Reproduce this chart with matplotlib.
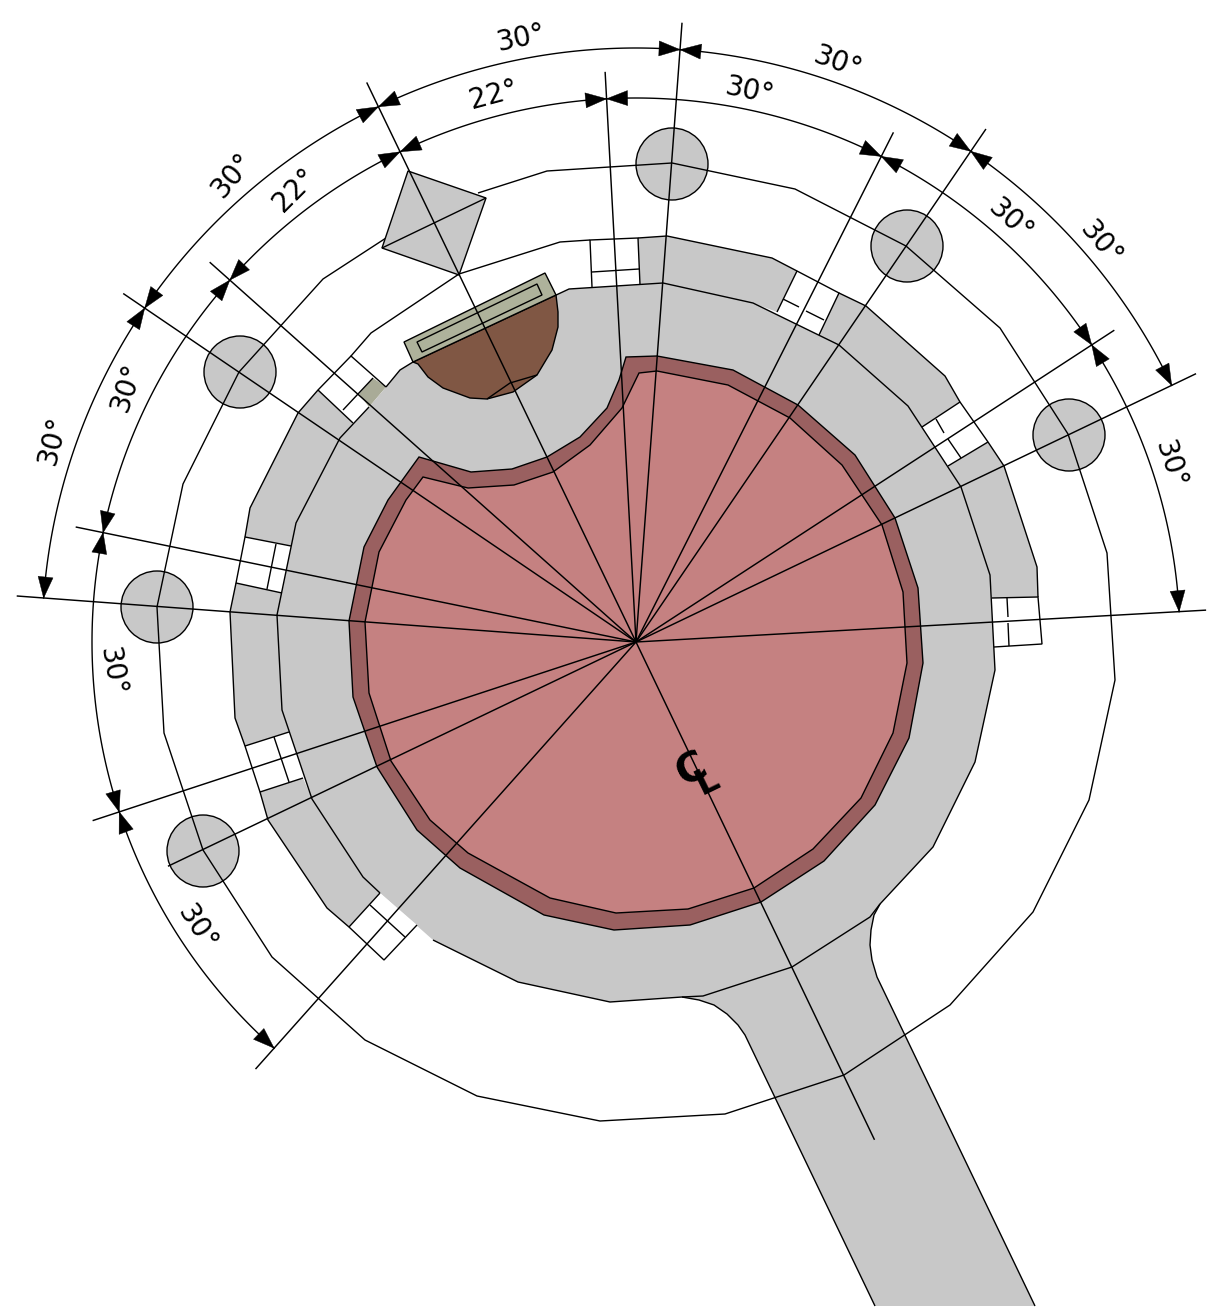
import numpy as np
import matplotlib
matplotlib.use("Agg")
import matplotlib.pyplot as plt
from matplotlib.patches import Polygon, Circle

GRAY = '#c8c8c8'
PINK = '#c58181'
DARK = '#9a6060'
OLIVE = '#aeb29b'
OLIVE_DK = '#a9ab97'
BROWN = '#805744'
LW = 1.0

centre = (636, 642)

body_fill = [(569,289),(663,283),(753,303),(839,345),(908,406),(961,487),(990,575),(995,670),(975,762),
             (933,847),(880,904),(874,915),(871,930),(870,945),(872,960),(877,977),(1035,1306),(875,1306),
             (745,1035),(738,1025),(727,1014),(714,1005),(699,1000),(682,997),(610,1002),(518,982),(433,940),
             (380,893),(363,877),(312,799),(282,710),(277,615),(296,523),(340,438),(369,407),(386,387),(400,370),(413,362)]
body_outline_a = [(433,940),(518,982),(610,1002),(682,997),(703,996),(792,967),(870,917),(880,904),(933,847),
                  (975,762),(995,670),(990,575),(961,487),(908,406),(839,345),(753,303),(663,283),(569,289),
                  (413,362),(400,370),(386,387)]
body_outline_b = [(369,407),(340,438),(296,523),(277,615),(282,710),(312,799),(363,877),(380,893)]
stem_left = [(875,1306),(745,1035),(738,1025),(727,1014),(714,1005),(699,1000),(682,997)]
stem_right = [(880,904),(874,915),(871,930),(870,945),(872,960),(877,977),(1035,1306)]

red_outer = [(626,357),(657,356),(733,370),(798,405),(855,455),(895,518),(918,588),(923,663),(909,738),(875,805),
             (824,861),(761,902),(690,925),(614,930),(544,915),(460,868),(417,830),(377,767),(353,697),(349,621),
             (364,547),(388,500),(419,457),(471,472),(512,469),(547,457),(580,437),(607,408),(619,380)]
red_inner = [(639,373),(657,371),(728,385),(790,418),(842,465),(882,525),(903,592),(907,663),(893,733),(861,798),
             (813,849),(754,888),(688,909),(616,913),(550,898),(468,853),(430,820),(391,761),(369,693),(365,622),
             (379,552),(406,500),(423,477),(468,488),(514,485),(553,472),(590,445),(622,408)]

segments = [
    [(638,238),(667,236),(772,258),(797,271),(777,312),(753,303),(663,283),(640,285)],
    [(839,293),(866,306),(945,376),(960,402),(922,427),(908,406),(839,345),(819,335)],
    [(988,442),(1004,466),(1037,567),(1038,597),(992,598),(990,575),(961,487),(948,466)],
    [(318,390),(298,413),(250,508),(245,537),(291,546),(296,523),(340,438),(353,423)],
    [(236,583),(230,612),(235,718),(245,746),(289,732),(282,710),(277,615),(282,593)],
    [(260,792),(268,820),(327,908),(349,927),(380,893),(363,877),(312,799),(303,778)],
]
boxes = [
    [(590,240),(638,238),(640,285),(592,287)],
    [(797,271),(839,293),(819,335),(777,312)],
    [(960,402),(988,442),(948,466),(922,427)],
    [(1038,597),(1042,644),(994,647),(992,598)],
    [(245,537),(236,583),(282,593),(291,546)],
    [(245,746),(260,792),(303,778),(289,732)],
]
box_open = [(380,893),(349,927),(384,960),(417,925)]
box_corner = [(386,387),(351,356),(318,390),(353,423),(369,407)]
box_ticks = [
    [(592,272),(639,269)], [(783,299),(799,307)], [(806,311),(824,320)], [(936,419),(944,433)],
    [(948,439),(961,458)], [(1007,598),(1008,617)], [(1008,623),(1009,646)], [(276,544),(267,589)],
    [(274,737),(289,782)], [(370,905),(405,937)], [(373,378),(343,410)],
]
olive_patch = [(373,378),(386,387),(369,407),(359,394)]

outer_path = [(386,238),(323,279),(239,372),(183,484),(157,607),(164,733),(203,850),(272,957),(365,1040),(477,1096),
              (600,1121),(725,1114),(844,1075),(950,1005),(1033,912),(1089,800),(1115,680),(1107,553),(1068,434),
              (1000,328),(906,246),(795,189),(672,163),(547,171),(478,193)]
middle_path = [(351,356),(371,333),(459,274),(560,242),(590,240)]
square = [(408,171),(486,198),(459,275),(382,248)]
square_diag = [(382,248),(486,198)]
post_x = [672, 907, 1069, 240, 157, 203]
post_y = [164, 246, 435, 372, 607, 851]
post_r = 36

pit = [(413,362),(556,295),(558,312),(558,327),(552,350),(537,375),(513,392),(487,399),(470,398),(443,388),(428,377),(418,364)]
pit_line = [(487,399),(510,383),(537,375)]
plate = [(404,342),(545,273),(556,295),(413,362)]
plate_inner = [(417,342),(537,284),(542,295),(422,352)]

radial_angle = [85.75, 63.2, 55.7, 33.1, 25.6, 3.2, -64.4, 228.3, 205.6, 198.2, 175.75, 168.4, 145.8, 138.3, 115.7, 93.1]
radial_len = [621, 571, 621, 571, 621, 571, 552, 572, 519, 572, 621, 572, 620, 571, 621, 571]

arc_outer_r = 594
arc_inner_r = 544
arc_spans = [
    (arc_outer_r,115.7,85.75),(arc_outer_r,85.75,55.7),(arc_outer_r,55.7,25.6),(arc_outer_r,145.8,115.7),(arc_outer_r,175.75,145.8),
    (arc_inner_r,115.7,93.1),(arc_inner_r,138.3,115.7),(arc_inner_r,93.1,63.2),(arc_inner_r,63.2,33.1),(arc_inner_r,33.1,3.2),
    (arc_inner_r,168.4,138.3),(arc_inner_r,198.2,168.4),(arc_inner_r,228.3,198.2),
]

label_text = ['30°','22°','30°','30°','30°','30°','30°','30°','22°','30°','30°','30°','30°']
label_x = [521,494,838,750,1011,1101,1170,233,295,127,53,112,197]
label_y = [38,95,63,91,221,244,465,175,190,387,440,672,928]
label_rot = [12,15,-20,-12,-42,-50,-72,50,45,72,76,-80,-57]


def pol(r, a):
    t = np.radians(a)
    return centre[0] + r*np.cos(t), centre[1] - r*np.sin(t)


def head(ax, r, a, sign):
    L, W = 21.0, 7.5
    da = np.degrees(L/r)*sign
    tip = np.array(pol(r, a))
    ri = np.array(pol(r-W, a+da))
    ro = np.array(pol(r+W, a+da))
    ax.add_patch(Polygon([tip, ri, ro], closed=True, fc='k', ec='k', lw=0.3, zorder=8))


fig = plt.figure(figsize=(12.09, 13.11), dpi=100)
ax = fig.add_axes([0, 0, 1, 1])
ax.set_xlim(0, 1209)
ax.set_ylim(1311, 0)
ax.axis('off')
ax.set_aspect('equal')


def line(pts, z=4, lw=LW):
    xs, ys = zip(*pts)
    ax.plot(xs, ys, color='k', lw=lw, zorder=z, solid_joinstyle='miter', solid_capstyle='butt')


ax.add_patch(Polygon(body_fill, closed=True, fc=GRAY, ec='none', zorder=1))
for s in segments:
    ax.add_patch(Polygon(s, closed=True, fc=GRAY, ec='none', zorder=2))
    line(s[:4])
for b in boxes:
    ax.add_patch(Polygon(b, closed=True, fc='w', ec='none', zorder=2))
    line([b[3], b[0], b[1], b[2]])
ax.add_patch(Polygon(box_open, closed=True, fc='w', ec='none', zorder=1.5))
line(box_open)
ax.add_patch(Polygon(box_corner, closed=True, fc='w', ec='none', zorder=2))
line(box_corner[:4])
ax.add_patch(Polygon(olive_patch, closed=True, fc=OLIVE_DK, ec='none', zorder=2.5))
for t in box_ticks:
    line(t)
line(body_outline_a)
line(body_outline_b)
line(stem_left)
line(stem_right)

ax.add_patch(Polygon(red_outer, closed=True, fc=DARK, ec='k', lw=LW, zorder=3))
ax.add_patch(Polygon(red_inner, closed=True, fc=PINK, ec='k', lw=LW, zorder=3.1))

line(outer_path)
line(middle_path)
ax.add_patch(Polygon(square, closed=True, fc=GRAY, ec='k', lw=LW, zorder=4.5))
line(square_diag, z=5)
for x, y in zip(post_x, post_y):
    ax.add_patch(Circle((x, y), post_r, fc=GRAY, ec='k', lw=LW, zorder=3.5))

ax.add_patch(Polygon(pit, closed=True, fc=BROWN, ec='k', lw=LW, zorder=4))
line(pit_line, z=4.2)
ax.add_patch(Polygon(plate, closed=True, fc=OLIVE, ec='k', lw=LW, zorder=4.3))
ax.add_patch(Polygon(plate_inner, closed=True, fc='none', ec='k', lw=LW, zorder=4.4))

for a, l in zip(radial_angle, radial_len):
    ax.plot(*zip(centre, pol(l, a)), color='k', lw=1.05, zorder=6, solid_capstyle='butt')

for r, a0, a1 in arc_spans:
    tt = np.linspace(a0, a1, 80)
    xs, ys = pol(r, tt)
    ax.plot(xs, ys, color='k', lw=1.0, zorder=6)
    sign = 1 if a1 > a0 else -1
    head(ax, r, a0, sign)
    head(ax, r, a1, -sign)

for s, x, y, rot in zip(label_text, label_x, label_y, label_rot):
    ax.text(x, y, s, fontsize=20, rotation=rot, ha='center', va='center', rotation_mode='anchor',
            family='DejaVu Sans', color='k', zorder=9)

ax.text(692, 770, 'C', fontsize=29, fontweight='bold', rotation=26, ha='center', va='center',
        rotation_mode='anchor', color='k', zorder=9)
ax.text(707, 781, 'L', fontsize=25, fontweight='bold', rotation=26, ha='center', va='center',
        rotation_mode='anchor', color='k', zorder=9)

fig.savefig('out.png', dpi=100, facecolor='w')
